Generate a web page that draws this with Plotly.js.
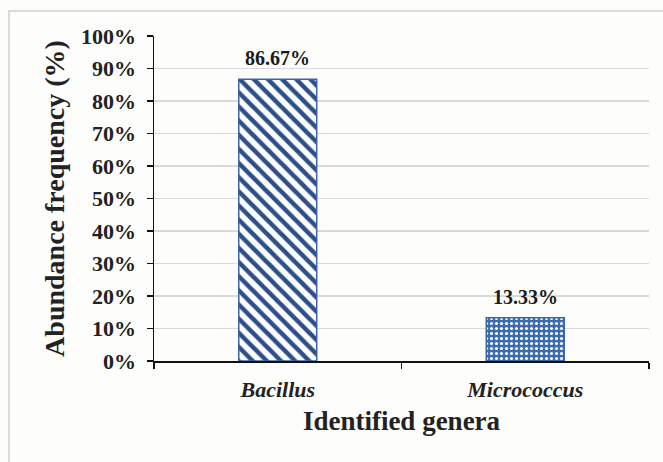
<!DOCTYPE html>
<html>
<head>
<meta charset="utf-8">
<script src="https://cdn.plot.ly/plotly-3.0.1.min.js"></script>
<style>html,body{margin:0;padding:0;background:#fdfdfb;}#chart{width:663px;height:462px;}</style>
</head>
<body>
<div id="chart"></div>
<script>
const categories = ["Bacillus", "Micrococcus"];
const abundance = [0.8667, 0.1333];
const valueLabels = ["86.67%", "13.33%"];
const yTickVals = [0, 0.1, 0.2, 0.3, 0.4, 0.5, 0.6, 0.7, 0.8, 0.9, 1.0];
const yTickText = ["0%", "10%", "20%", "30%", "40%", "50%", "60%", "70%", "80%", "90%", "100%"];

const serif = "Liberation Serif, Times New Roman, serif";
const catLabel = c => "<i>" + c + "</i>";

const patterns = [
  {shape: "\\", fgcolor: "#2c4f86", bgcolor: "#ffffff", size: 10, solidity: 0.45, fillmode: "replace"},
  {shape: ".", fgcolor: "#ffffff", bgcolor: "#3b6cb2", size: 5, solidity: 0.3, fillmode: "replace"}
];
const fills = ["#ffffff", "#3b6cb2"];

const traces = categories.map((c, i) => ({
  type: "bar",
  x: [catLabel(c)],
  y: [abundance[i]],
  width: 0.315,
  marker: {
    color: fills[i],
    line: {color: "#3a64a3", width: 1.5},
    pattern: patterns[i]
  },
  hoverinfo: "none"
}));

const annotations = categories.map((c, i) => ({
  x: catLabel(c),
  y: abundance[i],
  xref: "x", yref: "y",
  text: "<b>" + valueLabels[i] + "</b>",
  showarrow: false,
  yanchor: "bottom",
  yshift: 8,
  font: {family: serif, size: 20, color: "#1a1a1a"}
}));

const layout = {
  width: 663, height: 462,
  margin: {l: 154, r: 14, t: 36, b: 101},
  paper_bgcolor: "#fdfdfb",
  plot_bgcolor: "#fdfdfb",
  showlegend: false,
  barmode: "overlay",
  font: {family: serif, color: "#222222"},
  xaxis: {
    type: "category",
    categoryorder: "array", categoryarray: categories.map(catLabel),
    showline: true, linecolor: "#111111", linewidth: 1.5,
    ticks: "outside", tickson: "boundaries", ticklen: 6, tickcolor: "#111111", tickwidth: 1.5,
    ticklabelstandoff: 8,
    tickfont: {family: serif, size: 22, color: "#222222", weight: "bold"},
    showgrid: false,
    title: {text: "<b>Identified genera</b>", font: {family: serif, size: 27, color: "#222222"}, standoff: 10},
    fixedrange: true
  },
  yaxis: {
    range: [0, 1],
    tickvals: yTickVals, ticktext: yTickText.map(t => "<b>" + t + "</b>"),
    showline: true, linecolor: "#111111", linewidth: 1.5,
    ticks: "outside", ticklen: 6, tickcolor: "#111111", tickwidth: 1.5,
    ticklabelstandoff: 6,
    tickfont: {family: serif, size: 22, color: "#222222"},
    showgrid: true, gridcolor: "#d9d9d9", gridwidth: 1.2,
    zeroline: false,
    title: {text: "<b>Abundance frequency (%)</b>", font: {family: serif, size: 28, color: "#222222"}, standoff: 8},
    fixedrange: true
  },
  shapes: [{
    type: "rect", xref: "paper", yref: "paper",
    x0: -0.293, x1: 1.05, y0: -0.34, y1: 1.077,
    line: {color: "#cfcfcf", width: 1.5},
    fillcolor: "rgba(0,0,0,0)",
    layer: "below"
  }],
  annotations: annotations
};

Plotly.newPlot("chart", traces, layout, {displayModeBar: false, staticPlot: true});
</script>
</body>
</html>
